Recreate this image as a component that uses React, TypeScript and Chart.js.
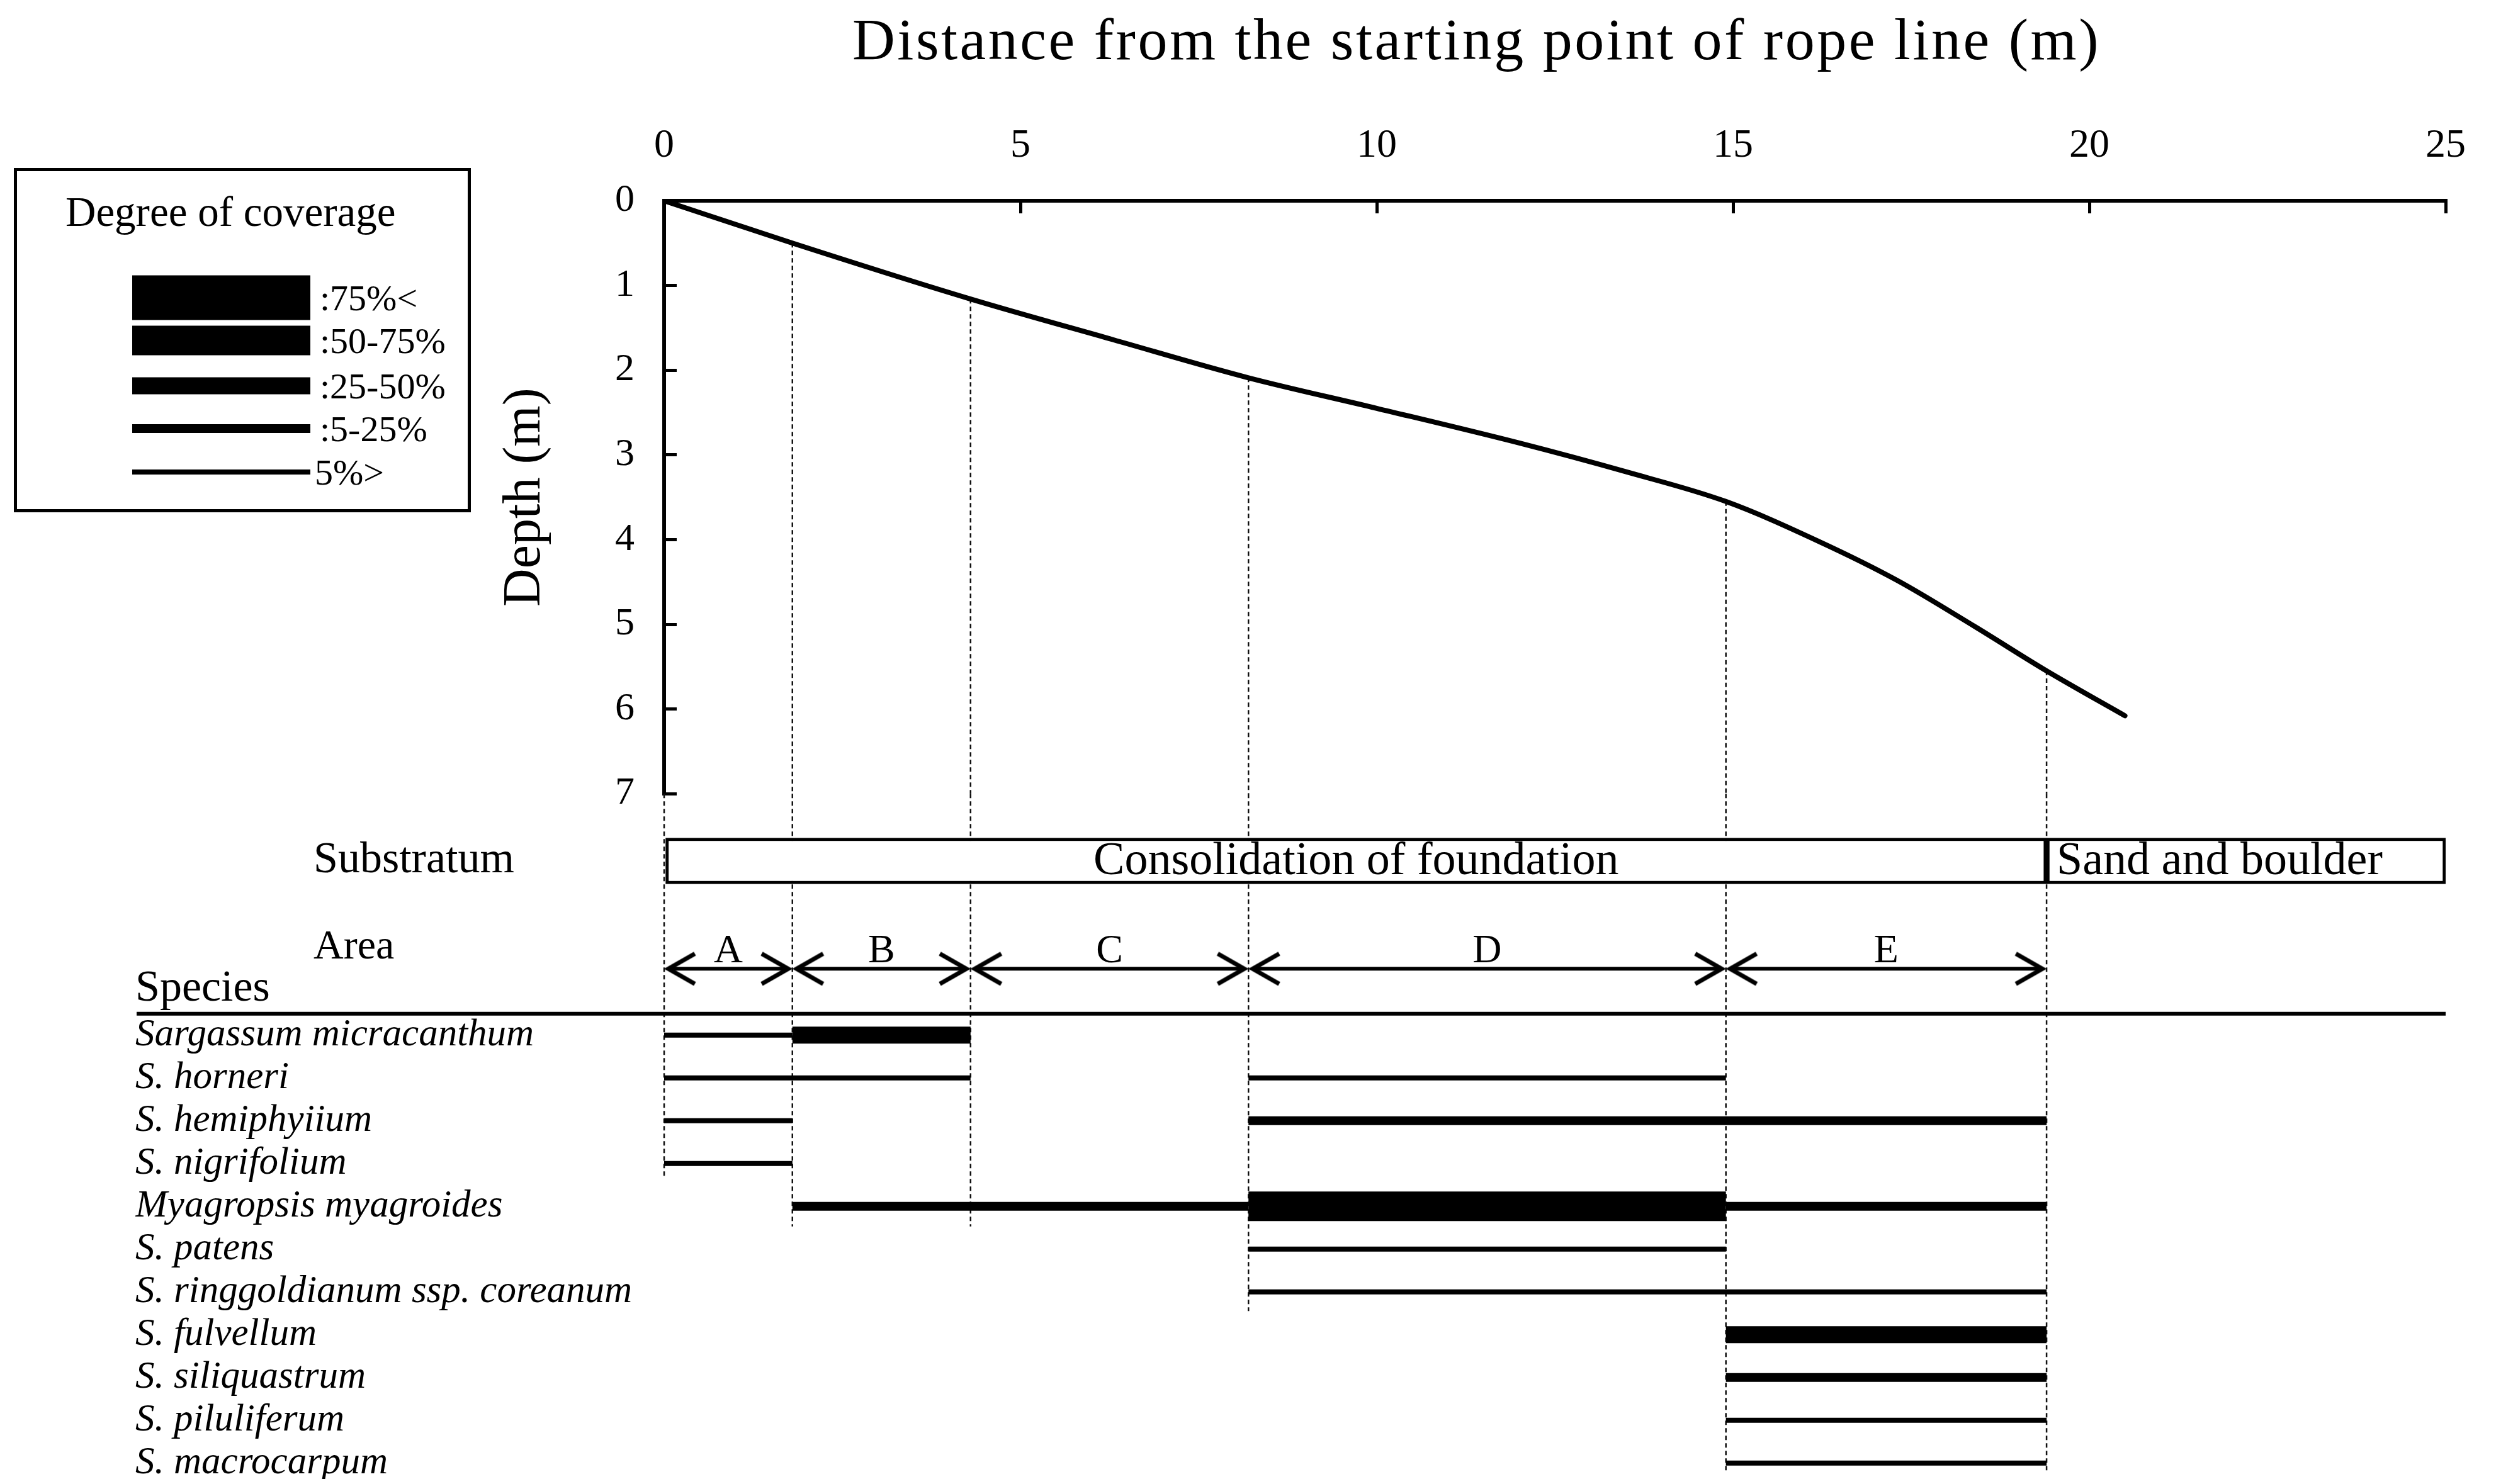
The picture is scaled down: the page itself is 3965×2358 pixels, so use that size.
import React, { useEffect, useRef } from 'react';
import { Chart, registerables } from 'chart.js';

Chart.register(...registerables);

// ---------------- data ----------------
const X_TITLE = 'Distance from the starting point of rope line (m)';
const Y_TITLE = 'Depth (m)';
const X_MIN = 0;
const X_MAX = 25;
const X_STEP = 5;
const DEPTH_MIN = 0;
const DEPTH_MAX = 7;

// depth profile along the rope line
const PROFILE_X = [0, 1.8, 4.3, 6.3, 8.2, 10, 12, 13.5, 14.9, 16.2, 17.3, 18.4, 19.4, 20.5];
const PROFILE_DEPTH = [0, 0.5, 1.16, 1.64, 2.09, 2.45, 2.86, 3.2, 3.55, 4.02, 4.48, 5.03, 5.55, 6.08];

// area boundaries (dotted guides)
const BOUNDARY_X = [0, 1.8, 4.3, 8.2, 14.9, 19.4];
const BOUNDARY_TOP_DEPTH = [7, 0.5, 1.16, 2.09, 3.55, 5.55];
const BOUNDARY_END_ROW = [3.33, 4.47, 4.47, 6.45, 10.29, 10.29];

// areas
const AREA_NAMES = ['A', 'B', 'C', 'D', 'E'];
const AREA_FROM = [0, 1.8, 4.3, 8.2, 14.9];
const AREA_TO = [1.8, 4.3, 8.2, 14.9, 19.4];

// substratum
const SUBSTRATUM_NAMES = ['Consolidation of foundation', 'Sand and boulder'];
const SUBSTRATUM_FROM = [0, 19.4];
const SUBSTRATUM_TO = [19.4, 25];

// species and coverage
const SPECIES = [
  'Sargassum micracanthum',
  'S. horneri',
  'S. hemiphyiium',
  'S. nigrifolium',
  'Myagropsis myagroides',
  'S. patens',
  'S. ringgoldianum ssp. coreanum',
  'S. fulvellum',
  'S. siliquastrum',
  'S. piluliferum',
  'S. macrocarpum',
];
const COVER_LABELS = [':75%<', ':50-75%', ':25-50%', ':5-25%', '5%>'];

const SEG_SPECIES = [0, 0, 1, 1, 2, 2, 3, 4, 4, 4, 5, 6, 7, 8, 9, 10];
const SEG_FROM = [0, 1.8, 0, 8.2, 0, 8.2, 0, 1.8, 8.2, 14.9, 8.2, 8.2, 14.9, 14.9, 14.9, 14.9];
const SEG_TO = [1.8, 4.3, 4.3, 14.9, 1.8, 19.4, 1.8, 8.2, 14.9, 19.4, 14.9, 19.4, 19.4, 19.4, 19.4, 19.4];
const SEG_COVER = [4, 2, 4, 4, 4, 3, 4, 3, 1, 3, 4, 4, 2, 3, 4, 4];

// ---------------- styles / layout ----------------
const FONT = '"Liberation Serif", serif';
const COVER_WIDTH = [71, 47, 27, 14, 8];
const CANVAS_W = 3949;
const CANVAS_H = 2342;
const LABEL_LEFT = 207;
const AXIS_BOX_W = 840;
const YS_MIN = -5.64;
const YS_MAX = 10.21;
const ROW_SUBSTRATUM = -4.07;
const ROW_AREA_LABEL = -2.05;
const ROW_AREA_LETTER = -1.95;
const ROW_ARROW = -1.55;
const ROW_SPECIES_HEAD = -1.07;
const ROW_RULE = -0.5;
const ARROW_GAP = 0.06;

function chevron(dir: number): HTMLCanvasElement {
  const c = document.createElement('canvas');
  c.width = 110;
  c.height = 64;
  const g = c.getContext('2d')!;
  g.strokeStyle = '#000';
  g.lineWidth = 7;
  g.lineJoin = 'miter';
  g.beginPath();
  g.moveTo(55 + dir * 42, 8);
  g.lineTo(55, 32);
  g.lineTo(55 + dir * 42, 56);
  g.stroke();
  return c;
}

function noLabelPadding(s: any) {
  s.paddingTop = 0;
  s.paddingBottom = 0;
  s.paddingLeft = 0;
  s.paddingRight = 0;
}

const decorPlugin = {
  id: 'decor',
  afterDraw(chart: any) {
    const ctx: CanvasRenderingContext2D = chart.ctx;
    const xs = chart.scales.x;
    const ys = chart.scales.ys;
    const area = chart.chartArea;
    ctx.save();
    ctx.fillStyle = '#000';
    ctx.strokeStyle = '#000';

    // axis title on top
    ctx.font = `94px ${FONT}`;
    (ctx as any).letterSpacing = '3.5px';
    ctx.textAlign = 'center';
    ctx.textBaseline = 'alphabetic';
    ctx.fillText(X_TITLE, area.left + (area.right - area.left) * 0.456, 86);
    (ctx as any).letterSpacing = '0px';

    // legend box
    ctx.lineWidth = 5;
    ctx.strokeRect(16.5, 261.5, 721, 542);
    ctx.font = `67px ${FONT}`;
    ctx.textAlign = 'left';
    ctx.textBaseline = 'alphabetic';
    ctx.fillText('Degree of coverage', 96, 351);
    const legendY = [465, 533, 605, 673, 742];
    COVER_LABELS.forEach((lab, i) => {
      const h = COVER_WIDTH[i];
      ctx.fillRect(202, legendY[i] - h / 2, 283, h);
      ctx.font = `58px ${FONT}`;
      ctx.textBaseline = 'middle';
      ctx.fillText(lab, lab.startsWith(':') ? 500 : 492, legendY[i] + 5);
    });

    // row labels
    ctx.textBaseline = 'middle';
    ctx.textAlign = 'left';
    ctx.font = `70px ${FONT}`;
    ctx.fillText('Substratum', 490, ys.getPixelForValue(ROW_SUBSTRATUM));
    ctx.font = `66px ${FONT}`;
    ctx.fillText('Area', 490, ys.getPixelForValue(ROW_AREA_LABEL));

    // substratum texts
    const barMeta = chart.getDatasetMeta(0);
    ctx.font = `74px ${FONT}`;
    barMeta.data.forEach((el: any, i: number) => {
      const left = Math.min(el.x, el.base);
      if (i === barMeta.data.length - 1) {
        ctx.textAlign = 'left';
        ctx.fillText(SUBSTRATUM_NAMES[i], left + 16, el.y + 2);
      } else {
        ctx.textAlign = 'center';
        ctx.fillText(SUBSTRATUM_NAMES[i], (el.x + el.base) / 2, el.y + 2);
      }
    });

    // area letters
    ctx.textAlign = 'center';
    ctx.font = `64px ${FONT}`;
    AREA_NAMES.forEach((n, i) => {
      const cx = (xs.getPixelForValue(AREA_FROM[i]) + xs.getPixelForValue(AREA_TO[i])) / 2;
      ctx.fillText(n, cx, ys.getPixelForValue(ROW_AREA_LETTER));
    });

    // rule under "Species"
    ctx.lineWidth = 6;
    ctx.beginPath();
    const ry = ys.getPixelForValue(ROW_RULE);
    ctx.moveTo(LABEL_LEFT + 2, ry);
    ctx.lineTo(area.right, ry);
    ctx.stroke();
    ctx.restore();
  },
};

export default function App() {
  const ref = useRef<HTMLCanvasElement>(null);

  useEffect(() => {
    if (!ref.current) return;
    const chevL = chevron(1);
    const chevR = chevron(-1);

    const italicFont = { family: FONT, size: 61, style: 'italic' as const };
    const headFont = { family: FONT, size: 70, style: 'normal' as const };

    const datasets: any[] = [];
    // 0: substratum boxes
    datasets.push({
      type: 'bar',
      indexAxis: 'y',
      xAxisID: 'x',
      yAxisID: 'ys',
      data: SUBSTRATUM_FROM.map((f, i) => ({ x: [f, SUBSTRATUM_TO[i]], y: ROW_SUBSTRATUM })),
      backgroundColor: '#fff',
      borderColor: '#000',
      borderWidth: 5,
      borderSkipped: false,
      barThickness: 73,
      order: 0,
    });
    // depth profile
    datasets.push({
      type: 'line',
      xAxisID: 'x',
      yAxisID: 'y',
      data: PROFILE_X.map((x, i) => ({ x, y: PROFILE_DEPTH[i] })),
      borderColor: '#000',
      borderWidth: 8,
      pointRadius: 0,
      cubicInterpolationMode: 'monotone',
      borderCapStyle: 'round',
      order: 2,
    });
    // guides
    BOUNDARY_X.forEach((bx, i) => {
      const guide = {
        type: 'line',
        xAxisID: 'x',
        borderColor: '#111',
        borderWidth: 2.5,
        borderDash: [7, 5],
        pointRadius: 0,
        clip: false,
        order: 5,
      };
      if (BOUNDARY_TOP_DEPTH[i] < DEPTH_MAX) {
        datasets.push({
          ...guide,
          yAxisID: 'y',
          data: [
            { x: bx, y: BOUNDARY_TOP_DEPTH[i] },
            { x: bx, y: DEPTH_MAX },
          ],
        });
      }
      datasets.push({
        ...guide,
        yAxisID: 'ys',
        data: [
          { x: bx, y: YS_MIN },
          { x: bx, y: Math.min(BOUNDARY_END_ROW[i], YS_MAX) },
        ],
      });
    });
    // area arrows
    AREA_FROM.forEach((f, i) => {
      datasets.push({
        type: 'line',
        xAxisID: 'x',
        yAxisID: 'ys',
        data: [
          { x: f + ARROW_GAP, y: ROW_ARROW },
          { x: AREA_TO[i] - ARROW_GAP, y: ROW_ARROW },
        ],
        borderColor: '#000',
        borderWidth: 6,
        pointStyle: [chevL, chevR],
        pointRadius: 5,
        pointHoverRadius: 5,
        order: 1,
      });
    });
    // species coverage segments
    SEG_FROM.forEach((f, i) => {
      datasets.push({
        type: 'line',
        xAxisID: 'x',
        yAxisID: 'ys',
        data: [
          { x: f, y: SEG_SPECIES[i] },
          { x: SEG_TO[i], y: SEG_SPECIES[i] },
        ],
        borderColor: '#000',
        borderWidth: COVER_WIDTH[SEG_COVER[i]],
        borderCapStyle: 'butt',
        pointRadius: 0,
        clip: false,
        order: 1,
      });
    });

    const chart = new Chart(ref.current, {
      type: 'line',
      data: { datasets },
      plugins: [decorPlugin],
      options: {
        animation: false,
        responsive: true,
        maintainAspectRatio: false,
        devicePixelRatio: 1,
        events: [],
        layout: { padding: { left: LABEL_LEFT, top: 161, right: 72, bottom: 0 } },
        plugins: { legend: { display: false }, tooltip: { enabled: false }, title: { display: false } },
        scales: {
          x: {
            type: 'linear',
            position: 'top',
            min: X_MIN,
            max: X_MAX,
            offset: false,
            ticks: { stepSize: X_STEP, color: '#000', font: { family: FONT, size: 64 }, padding: 68, maxRotation: 0, autoSkip: false },
            grid: { drawOnChartArea: false, drawTicks: true, tickLength: -20, color: '#000', lineWidth: 5, offset: false },
            border: { display: true, color: '#000', width: 6 },
            afterFit: (s: any) => {
              s.height = 150;
              noLabelPadding(s);
            },
          },
          y: {
            type: 'linear',
            position: 'left',
            stack: 'left',
            stackWeight: 945,
            weight: 1,
            reverse: true,
            min: DEPTH_MIN,
            max: DEPTH_MAX,
            offset: false,
            ticks: { stepSize: 1, color: '#000', font: { family: FONT, size: 62 }, padding: 67, autoSkip: false },
            grid: { drawOnChartArea: false, drawTicks: true, tickLength: -20, color: '#000', lineWidth: 5 },
            border: { display: true, color: '#000', width: 6 },
            title: { display: true, text: Y_TITLE, color: '#000', font: { family: FONT, size: 84 }, padding: { top: 570, bottom: 0 } },
            afterFit: (s: any) => {
              s.width = AXIS_BOX_W;
              noLabelPadding(s);
            },
          },
          ys: {
            type: 'linear',
            position: 'left',
            stack: 'left',
            stackWeight: 1081,
            weight: 0,
            reverse: true,
            min: YS_MIN,
            max: YS_MAX,
            offset: false,
            afterBuildTicks: (s: any) => {
              s.ticks = [ROW_SPECIES_HEAD, ...SPECIES.map((_, i) => i)].map((v) => ({ value: v }));
            },
            ticks: {
              autoSkip: false,
              color: '#000',
              crossAlign: 'far',
              padding: 0,
              font: (c: any) => (c.index === 0 ? headFont : italicFont),
              callback: (_v: any, i: number) => (i === 0 ? 'Species' : SPECIES[i - 1]),
            },
            grid: { display: false, drawTicks: false, drawOnChartArea: false },
            border: { display: false },
            afterFit: (s: any) => {
              s.width = AXIS_BOX_W;
              noLabelPadding(s);
            },
          },
        },
      } as any,
    });
    return () => chart.destroy();
  }, []);

  return (
    <div style={{ position: 'relative', width: CANVAS_W, height: CANVAS_H }}>
      <canvas ref={ref} />
    </div>
  );
}
